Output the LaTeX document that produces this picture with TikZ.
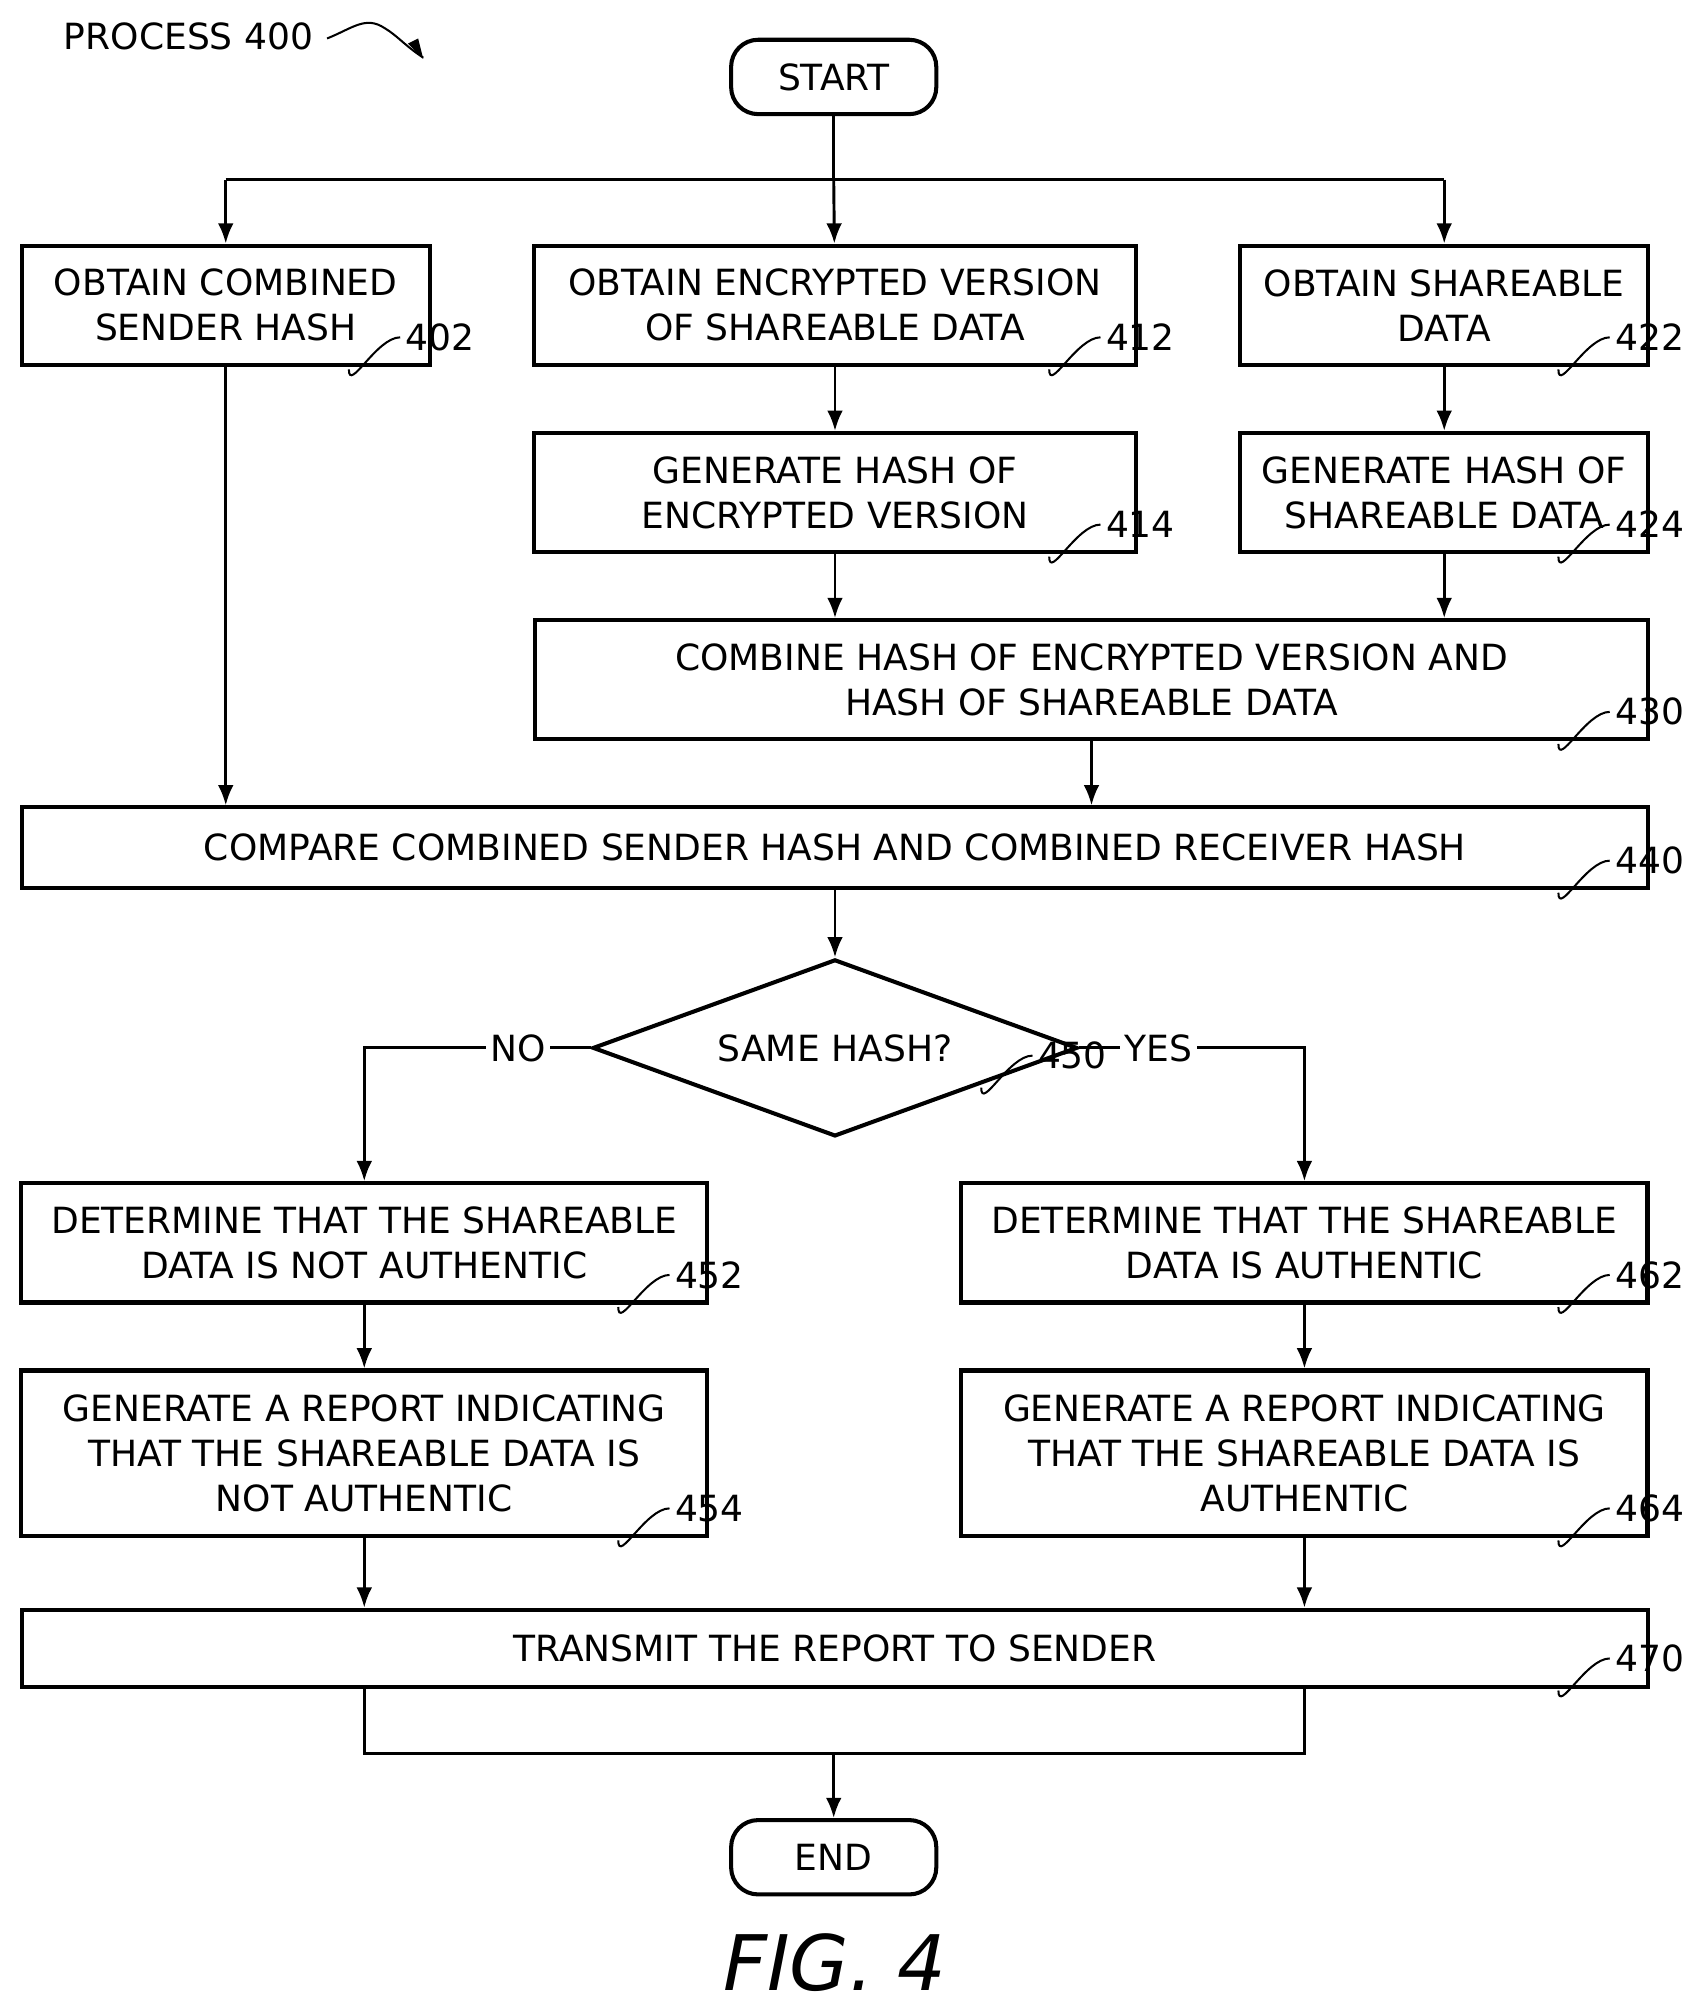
\documentclass[tikz,border=0pt]{standalone}
\usepackage{fontspec}
\setmainfont{DejaVu Sans}
\usetikzlibrary{shapes.geometric,arrows.meta}
\tikzset{
  box/.style={draw, line width=1.8pt, inner sep=0pt, align=center, font=\fontsize{16}{20}\selectfont},
  term/.style={box, rounded corners=12pt, minimum width=3.2cm, minimum height=1.16cm},
  flow/.style={-{Latex[length=9pt,width=7pt]}, line width=1.3pt},
  link/.style={line width=1.3pt},
  hook/.style={line width=0.9pt},
  num/.style={font=\fontsize{16}{20}\selectfont, anchor=west, inner sep=2pt}
}
\newcommand{\refnum}[2]{\draw[hook] (#1) to[out=-90,in=180] ++(40,-25) node[num]{#2};}
\begin{document}
\begin{tikzpicture}[x=0.02cm, y=-0.02cm]
\useasboundingbox (0,0) rectangle (1323,1571);

% title
\node[font=\fontsize{16}{20}\selectfont] (title) at (147,28) {PROCESS 400};
\draw[hook] (255,30) .. controls (275,22) and (285,12) .. (300,22) .. controls (310,28) and (315,35) .. (330,45);
\fill (330,46) -- (318,34) -- (326,30) -- cycle;

% terminals
\node[term] (start) at (650,60) {START};
\node[term] (end) at (650,1448) {END};

% top row
\node[box, minimum width=6.36cm, minimum height=1.86cm] (b402) at (176,238) {OBTAIN COMBINED\\SENDER HASH};
\node[box, minimum width=9.38cm, minimum height=1.86cm] (b412) at (651,238) {OBTAIN ENCRYPTED VERSION\\OF SHAREABLE DATA};
\node[box, minimum width=6.36cm, minimum height=1.86cm] (b422) at (1126,238) {OBTAIN SHAREABLE\\DATA};
\node[box, minimum width=9.38cm, minimum height=1.86cm] (b414) at (651,384) {GENERATE HASH OF\\ENCRYPTED VERSION};
\node[box, minimum width=6.36cm, minimum height=1.86cm] (b424) at (1126,384) {GENERATE HASH OF\\SHAREABLE DATA};
\node[box, minimum width=17.36cm, minimum height=1.86cm] (b430) at (851,530) {COMBINE HASH OF ENCRYPTED VERSION AND\\HASH OF SHAREABLE DATA};
\node[box, minimum width=25.36cm, minimum height=1.26cm] (b440) at (651,661) {COMPARE COMBINED SENDER HASH AND COMBINED RECEIVER HASH};
\node[box, diamond, aspect=2.74, minimum width=7.56cm, minimum height=2.76cm] (d450) at (651,817) {SAME HASH?};

% lower rows
\node[box, minimum width=10.7cm, minimum height=1.86cm] (b452) at (284,969) {DETERMINE THAT THE SHAREABLE\\DATA IS NOT AUTHENTIC};
\node[box, minimum width=10.7cm, minimum height=1.86cm] (b462) at (1017,969) {DETERMINE THAT THE SHAREABLE\\DATA IS AUTHENTIC};
\node[box, minimum width=10.7cm, minimum height=2.58cm] (b454) at (284,1133) {GENERATE A REPORT INDICATING\\THAT THE SHAREABLE DATA IS\\NOT AUTHENTIC};
\node[box, minimum width=10.7cm, minimum height=2.58cm] (b464) at (1017,1133) {GENERATE A REPORT INDICATING\\THAT THE SHAREABLE DATA IS\\AUTHENTIC};
\node[box, minimum width=25.36cm, minimum height=1.2cm] (b470) at (651,1285) {TRANSMIT THE REPORT TO SENDER};

\node[font=\fontsize{34}{40}\selectfont\itshape\rmfamily] (fig) at (651,1530) {FIG. 4};

% connectors
\coordinate (split) at (650,140);
\draw[link] (start) -- (split);
\draw[link] (b402.north |- split) -- (b422.north |- split);
\draw[flow] (b402.north |- split) -- (b402);
\draw[flow] (split) -- (b412);
\draw[flow] (b422.north |- split) -- (b422);
\draw[flow] (b412) -- (b414);
\draw[flow] (b422) -- (b424);
\draw[flow] (b414) -- (b414.south |- b430.north);
\draw[flow] (b424) -- (b424.south |- b430.north);
\draw[flow] (b402) -- (b402.south |- b440.north);
\draw[flow] (b430) -- (b430.south |- b440.north);
\draw[flow] (b440) -- (d450);
\draw[flow] (d450.west) -- node[fill=white, font=\fontsize{16}{20}\selectfont, inner sep=2pt, pos=0.32]{NO} (d450.west -| b452.north) -- (b452);
\draw[flow] (d450.east) -- node[fill=white, font=\fontsize{16}{20}\selectfont, inner sep=2pt, pos=0.35]{YES} (d450.east -| b462.north) -- (b462);
\draw[flow] (b452) -- (b454);
\draw[flow] (b462) -- (b464);
\draw[flow] (b454) -- (b454.south |- b470.north);
\draw[flow] (b464) -- (b464.south |- b470.north);
\coordinate (join) at (650,1367);
\draw[link] (b454.south |- b470.south) -- (b454.south |- join) -- (b464.south |- join) -- (b464.south |- b470.south);
\draw[flow] (join) -- (end);

% reference numbers
\refnum{272,288}{402}
\refnum{818,288}{412}
\refnum{1215,288}{422}
\refnum{818,434}{414}
\refnum{1215,434}{424}
\refnum{1215,580}{430}
\refnum{1215,696}{440}
\refnum{765,848}{450}
\refnum{482,1019}{452}
\refnum{1215,1019}{462}
\refnum{482,1201}{454}
\refnum{1215,1201}{464}
\refnum{1215,1318}{470}
\end{tikzpicture}
\end{document}
